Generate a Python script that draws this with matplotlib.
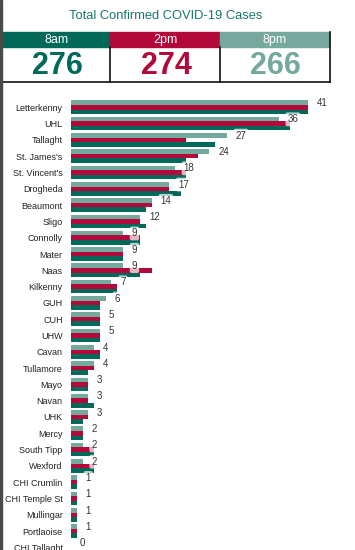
import numpy as np
import matplotlib.pyplot as plt
from matplotlib.patches import Rectangle

plt.rcParams['font.family'] = ['Liberation Sans', 'DejaVu Sans']

hospitals = ["Letterkenny", "UHL", "Tallaght", "St. James's", "St. Vincent's",
             "Drogheda", "Beaumont", "Sligo", "Connolly", "Mater", "Naas",
             "Kilkenny", "GUH", "CUH", "UHW", "Cavan", "Tullamore", "Mayo",
             "Navan", "UHK", "Mercy", "South Tipp", "Wexford", "CHI Crumlin",
             "CHI Temple St", "Mullingar", "Portlaoise", "CHI Tallaght"]
cases_8am = [41, 38, 25, 20, 20, 19, 13, 13, 12, 9, 12, 8, 5, 5, 5, 5, 3, 3,
             4, 2, 2, 4, 4, 1, 1, 1, 1, 0]
cases_2pm = [41, 38, 20, 22, 20, 17, 14, 12, 12, 9, 14, 8, 5, 5, 5, 5, 4, 3,
             3, 3, 2, 4, 4, 1, 1, 1, 1, 0]
cases_8pm = [41, 36, 27, 24, 18, 17, 14, 12, 9, 9, 9, 7, 6, 5, 5, 4, 4, 3,
             3, 3, 2, 2, 2, 1, 1, 1, 1, 0]

times = ["8am", "2pm", "8pm"]
c_dark = "#00695a"
c_red = "#b3093a"
c_light = "#75a99d"
colors = [c_dark, c_red, c_light]

W, H = 355, 550
fig = plt.figure(figsize=(W / 100, H / 100), dpi=100)


def px(x, y):
    # pixel (from top-left) to figure fraction
    return x / W, 1 - y / H


# left dark border
fig.patches.append(Rectangle((0, 0), 2.2 / W, 1, transform=fig.transFigure,
                             color="#4a4a4a", zorder=5))

fig.text(*px(166, 16), "Total Confirmed COVID-19 Cases", ha="center",
         va="center", fontsize=9.3, color="#17786c")

# summary boxes
totals = [sum(cases_8am), sum(cases_2pm), sum(cases_8pm)]
edges = [2.5, 110, 220, 329.5]
strip_b = 47
for k in range(3):
    x0, x1 = edges[k], edges[k + 1]
    fig.patches.append(Rectangle((x0 / W, 1 - strip_b / H), (x1 - x0) / W,
                                 (strip_b - 32) / H,
                                 transform=fig.transFigure, color=colors[k]))
    fig.text(*px((x0 + x1) / 2, 40), times[k], ha="center", va="center",
             fontsize=9, color="white")
    fig.text(*px((x0 + x1) / 2 + 1, 66.5), str(totals[k]), ha="center",
             va="center", fontsize=22, fontweight="bold", color=colors[k])
lw = 1.2
for xv in [110.5, 220.5, 329.5]:
    top = strip_b if xv < 300 else 32
    fig.add_artist(plt.Line2D([xv / W, xv / W], [1 - top / H, 1 - 82 / H],
                              transform=fig.transFigure, color="#111", lw=lw))
fig.add_artist(plt.Line2D([2 / W, 329.5 / W], [1 - 82 / H, 1 - 82 / H],
                          transform=fig.transFigure, color="#111", lw=lw))

# bar chart
row = 16.3
n = len(hospitals)
top_px = 107.3 - row / 2
ax_h = n * row
x0_px = 71
unit = 5.77
xmax = 48
ax = fig.add_axes([x0_px / W, 1 - (top_px + ax_h) / H, xmax * unit / W, ax_h / H])

y = np.arange(n)
bh = 0.28
ax.barh(y - bh, cases_8pm, height=bh, color=c_light)
ax.barh(y, cases_2pm, height=bh, color=c_red)
ax.barh(y + bh, cases_8am, height=bh, color=c_dark)

for i, v in enumerate(cases_8pm):
    ax.annotate(str(v), (v, i - bh + 0.02), xytext=(6.3, 0),
                textcoords="offset points", ha="left", va="center",
                fontsize=7, color="#333333",
                bbox=dict(boxstyle="round,pad=0.2", fc="white", ec="none",
                          alpha=0.7))

ax.set_xlim(0, xmax)
ax.set_ylim(n - 0.5, -0.5)
ax.set_yticks(y)
ax.set_yticklabels(hospitals, fontsize=6.5, color="#222222")
ax.tick_params(axis="y", length=0, pad=6)
ax.set_xticks([])
for s in ax.spines.values():
    s.set_visible(False)

fig.savefig("out.png", dpi=100)
